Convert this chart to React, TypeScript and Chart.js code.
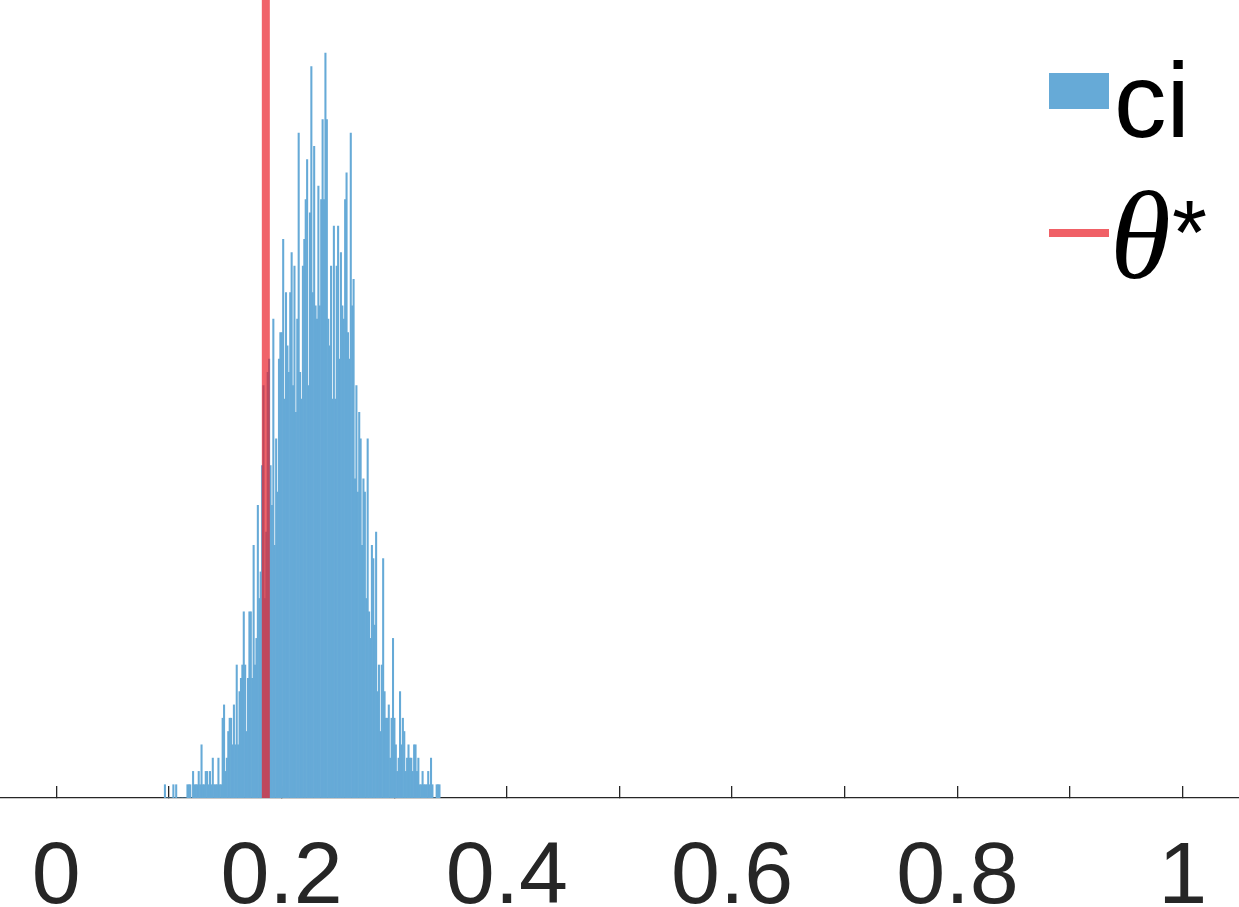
import React, { useEffect, useRef } from 'react';
import { Chart, registerables } from 'chart.js';

Chart.register(...registerables);

// Histogram bins (left edge of the first bin and bin width, in data units)
const binStart = 0.0958;
const binWidth = 0.00125;
// Counts per bin
const binCounts = [
  1, 0, 0, 0, 0, 0, 1, 0, 1, 0,
  0, 0, 0, 0, 0, 0, 1, 1, 1, 0,
  2, 1, 1, 1, 2, 1, 4, 1, 1, 2,
  2, 1, 2, 1, 3, 1, 1, 1, 3, 1,
  1, 6, 7, 2, 3, 5, 6, 6, 4, 7,
  4, 10, 4, 8, 9, 10, 14, 10, 5, 9,
  14, 14, 9, 19, 10, 12, 22, 15, 17, 25,
  31, 15, 20, 32, 33, 25, 22, 36, 19, 27,
  23, 33, 35, 35, 42, 30, 38, 34, 32, 38,
  41, 31, 40, 29, 36, 50, 32, 30, 40, 42,
  45, 48, 31, 44, 55, 38, 49, 37, 36, 46,
  37, 45, 51, 45, 56, 51, 36, 34, 40, 30,
  43, 30, 40, 43, 33, 41, 37, 36, 45, 47,
  35, 33, 50, 37, 39, 24, 31, 23, 29, 27,
  19, 24, 23, 15, 27, 14, 12, 19, 18, 13,
  20, 8, 10, 5, 10, 18, 8, 6, 6, 7,
  3, 6, 12, 6, 4, 2, 3, 8, 4, 6,
  5, 2, 3, 4, 3, 3, 2, 4, 4, 2,
  3, 1, 1, 2, 1, 1, 1, 2, 1, 3,
  1, 0, 0, 1, 1, 1,
];
const thetaStar = 0.186;
const yMax = 60;
const xMin = -0.05;
const xMax = 1.05;
const xTickValues = [0, 0.1, 0.2, 0.3, 0.4, 0.5, 0.6, 0.7, 0.8, 0.9, 1];
const xTickLabels = ['0', '', '0.2', '', '0.4', '', '0.6', '', '0.8', '', '1'];
const seriesLabels = ['ci', 'θ', '*'];

const BLUE = 'rgb(102,170,215)';
const RED_LINE = 'rgba(233,25,35,0.68)';
const RED_LEGEND = 'rgb(240,96,102)';
const SANS = '"Liberation Sans", Arial, Helvetica, sans-serif';
const SERIF = '"Liberation Serif", "Times New Roman", serif';

export default function App() {
  const ref = useRef<HTMLCanvasElement>(null);

  useEffect(() => {
    document.body.style.margin = '0';
    const histData = binCounts.map((c, i) => ({ x: binStart + binWidth * (i + 0.5), y: c }));

    const legendPlugin = {
      id: 'customLegend',
      afterDraw(chart: any) {
        const ctx = chart.ctx as CanvasRenderingContext2D;
        ctx.save();
        // ci
        ctx.fillStyle = BLUE;
        ctx.fillRect(1049, 73, 60, 36);
        ctx.fillStyle = '#000';
        ctx.font = `105px ${SANS}`;
        ctx.textBaseline = 'alphabetic';
        ctx.textAlign = 'left';
        ctx.fillText(seriesLabels[0], 1114, 137);
        // theta*
        ctx.fillStyle = RED_LEGEND;
        ctx.fillRect(1049, 229, 60, 8);
        ctx.fillStyle = '#000';
        ctx.font = `italic 124px ${SERIF}`;
        ctx.fillText(seriesLabels[1], 1110, 278);
        ctx.font = `90px ${SANS}`;
        ctx.fillText(seriesLabels[2], 1172, 264);
        ctx.restore();
      },
    };

    const chart = new Chart(ref.current as HTMLCanvasElement, {
      type: 'bar',
      data: {
        datasets: [
          {
            type: 'line',
            label: 'θ*',
            data: [
              { x: thetaStar, y: 0 },
              { x: thetaStar, y: yMax },
            ],
            borderColor: RED_LINE,
            borderWidth: 8,
            pointRadius: 0,
            pointHoverRadius: 0,
            order: 0,
          } as any,
          {
            type: 'bar',
            label: 'ci',
            data: histData,
            backgroundColor: BLUE,
            borderWidth: 0,
            barPercentage: 1,
            categoryPercentage: 1,
            order: 1,
          } as any,
        ],
      },
      options: {
        animation: false,
        responsive: false,
        maintainAspectRatio: false,
        layout: { padding: 0, autoPadding: false },
        plugins: { legend: { display: false }, tooltip: { enabled: false } },
        scales: {
          x: {
            type: 'linear',
            min: xMin,
            max: xMax,
            offset: false,
            afterBuildTicks: (s: any) => {
              s.ticks = xTickValues.map((v) => ({ value: v }));
            },
            afterFit: (s: any) => {
              s.height = 109;
              s.paddingLeft = 0;
              s.paddingRight = 0;
            },
            ticks: {
              callback: (_v: any, i: number) => xTickLabels[i] ?? '',
              font: { size: 88, family: SANS },
              color: '#262626',
              padding: 40,
              maxRotation: 0,
              autoSkip: false,
              includeBounds: false,
            },
            grid: {
              offset: false,
              drawOnChartArea: false,
              drawTicks: true,
              tickLength: -12,
              color: '#262626',
              lineWidth: 1.3,
            },
            border: { color: '#262626', width: 1.2 },
          },
          y: { display: false, min: 0, max: yMax },
        },
      } as any,
      plugins: [legendPlugin],
    });
    return () => chart.destroy();
  }, []);

  return (
    <div style={{ position: 'fixed', left: 0, top: 0, width: 1239, height: 907, background: '#fff' }}>
      <canvas ref={ref} width={1239} height={907} style={{ display: 'block' }} />
    </div>
  );
}
